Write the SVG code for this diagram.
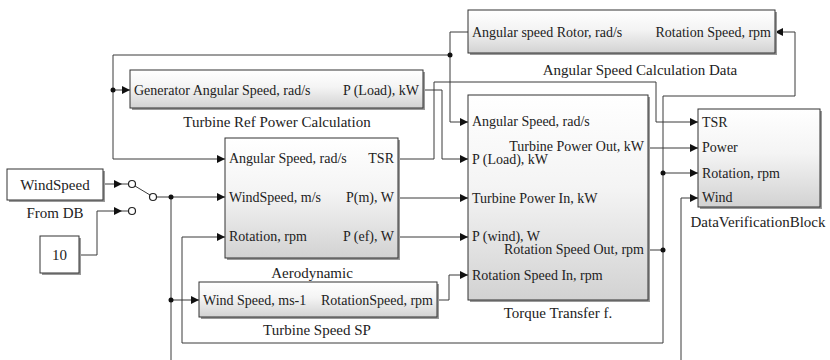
<svg xmlns="http://www.w3.org/2000/svg" width="830" height="360" viewBox="0 0 830 360" font-family="'Liberation Serif', 'Times New Roman', serif">
  <defs>
    <linearGradient id="blockFill" x1="0" y1="0" x2="0" y2="1">
      <stop offset="0" stop-color="#ffffff"/>
      <stop offset="0.45" stop-color="#f4f4f4"/>
      <stop offset="1" stop-color="#d2d2d2"/>
    </linearGradient>
    <marker id="arrow" markerUnits="userSpaceOnUse" markerWidth="10" markerHeight="10" refX="9" refY="5" orient="auto">
      <path d="M1,1 L9,5 L1,9 Z" fill="#111"/>
    </marker>
  </defs>
  <style>
    .blk { fill: url(#blockFill); stroke: #333; stroke-width: 1; }
    .plain { fill: #fff; stroke: #333; stroke-width: 1; }
    .shadow { fill: #9a9a9a; }
    .port { font-size: 14px; fill: #222; }
    .cap { font-size: 15px; fill: #222; }
    .end { text-anchor: end; }
    .mid { text-anchor: middle; }
    .wire { fill: none; stroke: #3a3a3a; stroke-width: 1; }
    .arr { marker-end: url(#arrow); }
    .dot { fill: #111; }
    .pin { fill: #fff; stroke: #222; stroke-width: 1.2; }
  </style>

  <rect width="830" height="360" fill="#fff"/>

  <!-- connectors -->
  <g id="connectors">
    <!-- source and switch -->
    <path class="wire arr" d="M103,184 H122"/>
    <path class="wire" d="M122,184 H128"/>
    <path class="wire arr" d="M79,255 H97 V211 H122"/>
    <path class="wire" d="M122,211 H128"/>
    <path class="wire" d="M135,186 L150,195"/>
    <circle class="pin" cx="132" cy="184" r="3.5"/>
    <circle class="pin" cx="132" cy="211" r="3.5"/>
    <circle class="pin" cx="153" cy="197" r="3.5"/>
    <path class="wire arr" d="M157,197 H225"/>
    <path class="wire" d="M171,197 V360"/>
    <path class="wire arr" d="M171,300 H199"/>
    <circle class="dot" cx="171" cy="197" r="2.5"/>
    <circle class="dot" cx="171" cy="300" r="2.5"/>

    <!-- speed set point to torque block -->
    <path class="wire arr" d="M437,300 H449 V275 H468"/>

    <!-- aerodynamic outputs -->
    <path class="wire arr" d="M398,159 H434 V82 H656 V122 H698"/>
    <path class="wire arr" d="M398,198 H468"/>
    <path class="wire arr" d="M398,237 H468"/>

    <!-- reference power to torque block -->
    <path class="wire arr" d="M423,90 H442 V159 H468"/>

    <!-- rotor angular speed feedback -->
    <path class="wire arr" d="M468,32 H450 V122 H468"/>
    <path class="wire arr" d="M450,55 H113 V159 H225"/>
    <path class="wire arr" d="M113,90 H130"/>
    <circle class="dot" cx="450" cy="55" r="2.5"/>
    <circle class="dot" cx="113" cy="90" r="2.5"/>

    <!-- torque block outputs -->
    <path class="wire arr" d="M648,148 H698"/>
    <path class="wire" d="M648,250 H663"/>
    <path class="wire arr" d="M663,250 V96 H795 V32 H775"/>
    <path class="wire arr" d="M663,173 H698"/>
    <path class="wire arr" d="M663,250 V343 H182 V237 H225"/>
    <circle class="dot" cx="663" cy="250" r="2.5"/>
    <circle class="dot" cx="663" cy="173" r="2.5"/>

    <!-- wind to verification block -->
    <path class="wire arr" d="M681,360 V198 H698"/>
  </g>

  <!-- wind speed source -->
  <g id="windSpeed">
    <rect class="shadow" x="9" y="171" width="96" height="31"/>
    <rect class="plain" x="7" y="169" width="96" height="31"/>
    <text class="cap mid" x="55" y="190">WindSpeed</text>
    <text class="cap mid" x="55" y="218">From DB</text>
  </g>

  <!-- constant -->
  <g id="constant10">
    <rect class="shadow" x="42" y="238" width="39" height="37"/>
    <rect class="plain" x="40" y="236" width="39" height="37"/>
    <text class="cap mid" x="59.5" y="260">10</text>
  </g>

  <!-- turbine reference power -->
  <g id="turbineRefPower">
    <rect class="shadow" x="132" y="72" width="293" height="38"/>
    <rect class="blk" x="130" y="70" width="293" height="38"/>
    <text class="port" x="134" y="95">Generator Angular Speed, rad/s</text>
    <text class="port end" x="419" y="95">P (Load), kW</text>
    <text class="cap mid" x="277" y="127">Turbine Ref Power Calculation</text>
  </g>

  <!-- aerodynamic model -->
  <g id="aerodynamic">
    <rect class="shadow" x="227" y="140" width="173" height="120"/>
    <rect class="blk" x="225" y="138" width="173" height="120"/>
    <text class="port" x="229" y="163">Angular Speed, rad/s</text>
    <text class="port" x="229" y="202">WindSpeed, m/s</text>
    <text class="port" x="229" y="241">Rotation, rpm</text>
    <text class="port end" x="394" y="163">TSR</text>
    <text class="port end" x="394" y="202">P(m), W</text>
    <text class="port end" x="394" y="241">P (ef), W</text>
    <text class="cap mid" x="312" y="278">Aerodynamic</text>
  </g>

  <!-- turbine speed set point -->
  <g id="turbineSpeedSP">
    <rect class="shadow" x="201" y="284" width="238" height="35"/>
    <rect class="blk" x="199" y="282" width="238" height="35"/>
    <text class="port" x="203" y="305">Wind Speed, ms-1</text>
    <text class="port end" x="433" y="305">RotationSpeed, rpm</text>
    <text class="cap mid" x="317" y="335">Turbine Speed SP</text>
  </g>

  <!-- torque transfer -->
  <g id="torqueTransfer">
    <rect class="shadow" x="470" y="97" width="180" height="205"/>
    <rect class="blk" x="468" y="95" width="180" height="205"/>
    <text class="port" x="472" y="126">Angular Speed, rad/s</text>
    <text class="port end" x="644" y="151">Turbine Power Out, kW</text>
    <text class="port" x="472" y="164">P (Load), kW</text>
    <text class="port" x="472" y="203">Turbine Power In, kW</text>
    <text class="port" x="472" y="241">P (wind), W</text>
    <text class="port end" x="644" y="254">Rotation Speed Out, rpm</text>
    <text class="port" x="472" y="280">Rotation Speed In, rpm</text>
    <text class="cap mid" x="558" y="318">Torque Transfer f.</text>
  </g>

  <!-- angular speed calculation -->
  <g id="angularSpeedCalc">
    <rect class="shadow" x="470" y="12" width="307" height="43"/>
    <rect class="blk" x="468" y="10" width="307" height="43"/>
    <text class="port" x="472" y="37">Angular speed Rotor, rad/s</text>
    <text class="port end" x="771" y="37">Rotation Speed, rpm</text>
    <text class="cap mid" x="640" y="75">Angular Speed Calculation Data</text>
  </g>

  <!-- data verification -->
  <g id="dataVerification">
    <rect class="shadow" x="700" y="111" width="122" height="98"/>
    <rect class="blk" x="698" y="109" width="122" height="98"/>
    <text class="port" x="702" y="127">TSR</text>
    <text class="port" x="702" y="152">Power</text>
    <text class="port" x="702" y="178">Rotation, rpm</text>
    <text class="port" x="702" y="202">Wind</text>
    <text class="cap mid" x="758" y="227">DataVerificationBlock</text>
  </g>
</svg>
